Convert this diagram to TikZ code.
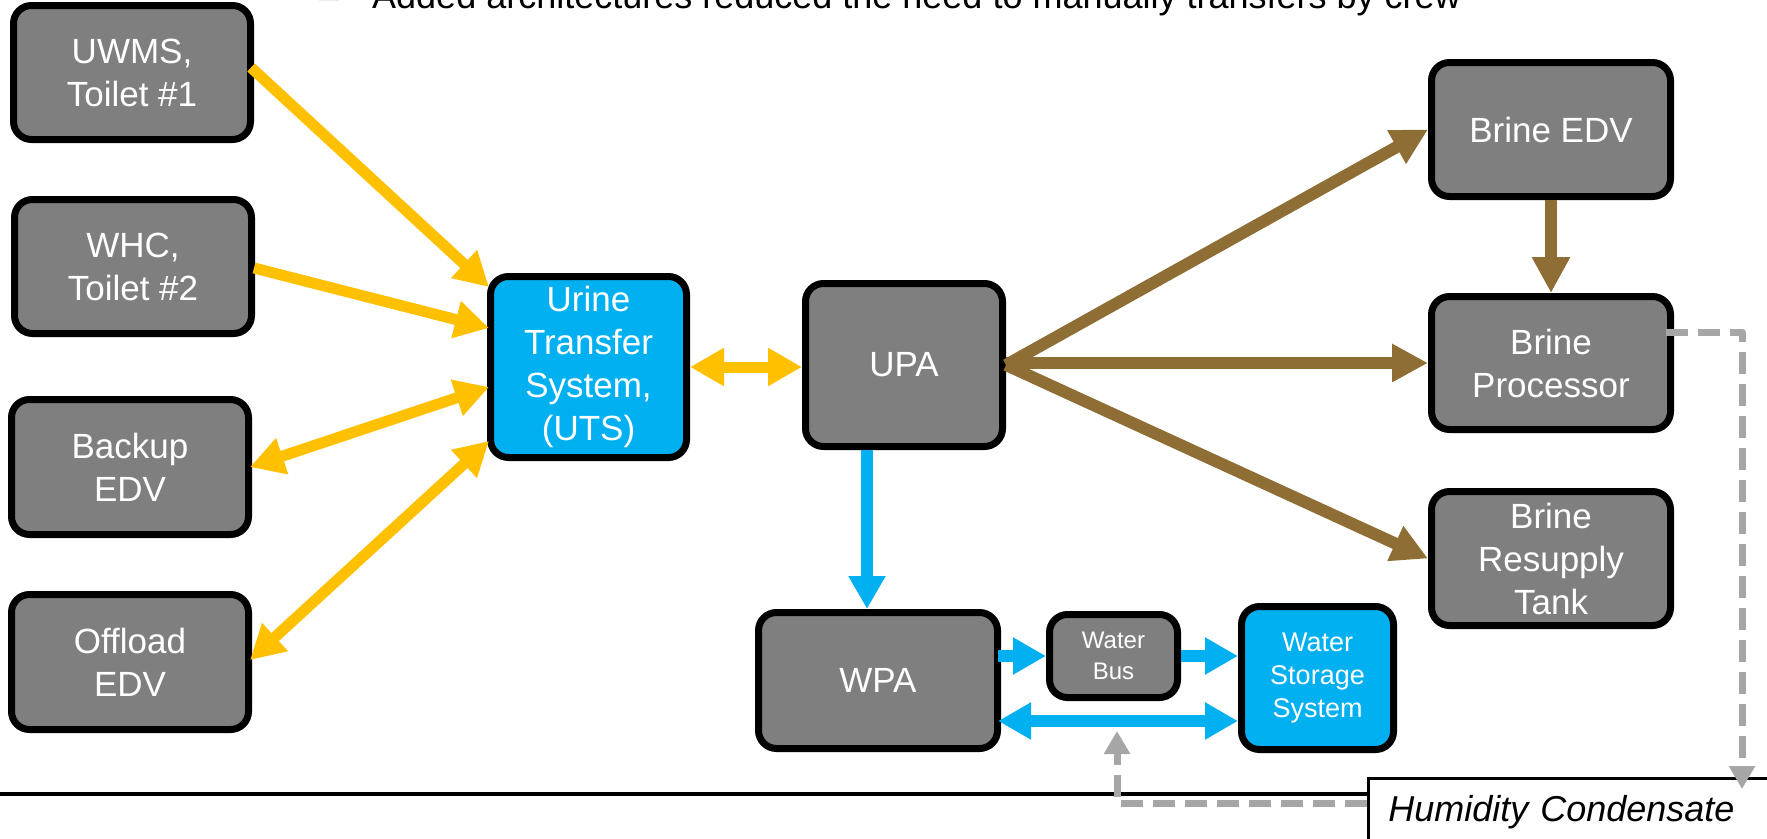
\documentclass[tikz,border=0pt]{standalone}
\usepackage{fontspec}
\setmainfont{Liberation Sans}
\usetikzlibrary{arrows.meta,calc}
\definecolor{boxgray}{HTML}{7F7F7F}
\definecolor{ublue}{HTML}{00B0F0}
\definecolor{ugold}{HTML}{FFC000}
\definecolor{ubrown}{HTML}{8E6E35}
\definecolor{ugrey}{HTML}{A6A6A6}
\begin{document}
\begin{tikzpicture}[x=1pt,y=-1pt,
  box/.style={draw=black, line width=7pt, rounded corners=18pt, fill=boxgray,
    text=white, align=center, inner sep=0pt, font=\fontsize{35}{43}\selectfont},
  bluebox/.style={box, fill=ublue},
  goldarrow/.style={draw=ugold, line width=11pt, -{Triangle[length=34pt,width=36pt]}},
  goldboth/.style={draw=ugold, line width=11pt, {Triangle[length=34pt,width=36pt]}-{Triangle[length=34pt,width=36pt]}},
  brownarrow/.style={draw=ubrown, line width=12pt, -{Triangle[length=36pt,width=36pt]}},
  bluearrow/.style={draw=ublue, line width=12pt, -{Triangle[length=33pt,width=35pt]}},
  blueboth/.style={draw=ublue, line width=12pt, {Triangle[length=33pt,width=35pt]}-{Triangle[length=33pt,width=35pt]}},
  greyarrow/.style={draw=ugrey, line width=7pt, dash pattern=on 22pt off 10pt,
    line join=round, -{Triangle[length=23pt,width=25pt]}}
]
\useasboundingbox (0,0) rectangle (1767,838);

% title
\node[anchor=base west, inner sep=0pt, font=\fontsize{36}{40}\selectfont] (bullet) at (319,8.5) {–};
\node[anchor=base west, inner sep=0pt, font=\fontsize{36}{40}\selectfont] (title) at (372,8.5)
  {Added architectures reduced the need to manually transfers by crew};

% left column
\node[box, minimum width=237pt, minimum height=134pt] (uwms) at (132,72.5) {UWMS,\\Toilet \#1};
\node[box, minimum width=237pt, minimum height=134pt] (whc) at (133,266.5) {WHC,\\Toilet \#2};
\node[box, minimum width=237pt, minimum height=135pt] (backup) at (130,467) {Backup\\EDV};
\node[box, minimum width=237pt, minimum height=135pt] (offload) at (130,662) {Offload\\EDV};

% middle
\node[bluebox, minimum width=196pt, minimum height=181pt] (uts) at (588.5,367) {Urine\\Transfer\\System,\\(UTS)};
\node[box, minimum width=197pt, minimum height=163pt] (upa) at (904,365) {UPA};

% right column
\node[box, minimum width=239pt, minimum height=134pt] (bedv) at (1551,129.5) {Brine EDV};
\node[box, minimum width=239pt, minimum height=133pt] (bproc) at (1551,363) {Brine\\Processor};
\node[box, minimum width=239pt, minimum height=134pt] (bres) at (1551,558.5) {Brine\\Resupply\\Tank};

% bottom
\node[box, minimum width=239pt, minimum height=136pt] (wpa) at (878,680.5) {WPA};
\node[box, minimum width=128pt, minimum height=83pt, font=\fontsize{24}{31}\selectfont] (wbus) at (1113.5,656) {Water\\Bus};
\node[bluebox, minimum width=152pt, minimum height=143pt, font=\fontsize{27}{33}\selectfont] (wss) at (1317.5,678) {Water\\Storage\\System};

% gold connectors
\draw[goldarrow] ($(uwms.east)+(-3,-5)$) -- ($(uts.west)+(2,-80)$);
\draw[goldarrow] ($(whc.east)+(-1,1.5)$) -- ($(uts.west)+(2,-39)$);
\draw[goldboth] ($(backup.east)+(-2,0)$) -- ($(uts.west)+(2,20)$);
\draw[goldboth] ($(offload.east)+(-2,-2)$) -- ($(uts.west)+(2,74)$);
\draw[goldboth] (uts.east) -- (uts.east -| upa.west);

% brown connectors
\draw[brownarrow] (upa.east) -- (bedv.west);
\draw[brownarrow] (bproc.west -| upa.east) -- (bproc.west);
\draw[brownarrow] (upa.east) -- (bres.west);
\draw[brownarrow] (bedv.south) -- (bproc.north);

% blue connectors
\coordinate (u1) at ($(upa.south)+(-37,0)$);
\draw[bluearrow] (u1) -- (u1 |- wpa.north);
\draw[bluearrow] ($(wpa.east |- wbus.west)+(-3,0)$) -- (wbus.west);
\draw[bluearrow] (wbus.east) -- (wbus.east -| wss.west);
\coordinate (w1) at ($(wpa.east)+(-3,40.5)$);
\draw[blueboth] (w1) -- (w1 -| wss.west);

% bottom rule and humidity box
\draw[line width=4pt] (0,794) -- (1368,794);
\node[draw=black, line width=2.5pt, fill=white, anchor=north west, inner xsep=20pt, inner ysep=0pt,
  text width=410pt, minimum height=68pt, align=left,
  font=\itshape\fontsize{36}{42}\selectfont] (hum) at (1367,777) {Humidity Condensate};

% grey dashed connectors
\coordinate (g1) at ($(bproc.east)+(-8,-31)$);
\coordinate (gtip) at (1742,789);
\draw[greyarrow] (g1) -| (gtip);
\coordinate (h1) at ($(hum.north west)+(0,26)$);
\coordinate (gtip2) at (1117,731);
\draw[greyarrow] (h1) -| (gtip2);
\end{tikzpicture}
\end{document}
